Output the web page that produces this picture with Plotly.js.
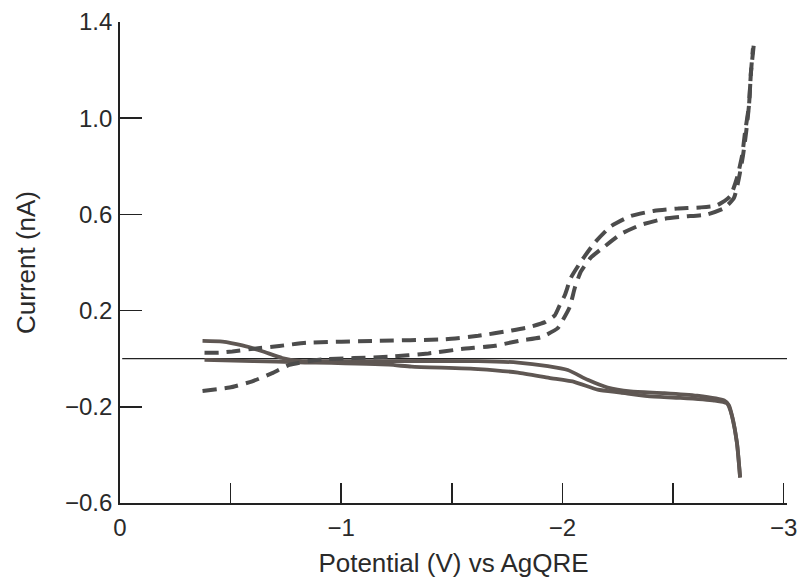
<!DOCTYPE html>
<html>
<head>
<meta charset="utf-8">
<script src="https://cdn.plot.ly/plotly-3.0.1.min.js"></script>
<style>html,body{margin:0;padding:0;background:#fff;}#chart{width:802px;height:587px;}</style>
</head>
<body>
<div id="chart"></div>
<script>
// Dashed scan A (upper plateau)
const dashAx = [-0.382,-0.450,-0.508,-0.616,-0.720,-0.841,-1.156,-1.471,-1.619,-1.768,-1.844,-1.921,-1.966,-1.988,-2.011,-2.038,-2.083,-2.146,-2.218,-2.308,-2.416,-2.519,-2.623,-2.699,-2.758,-2.789,-2.812,-2.825,-2.843,-2.852,-2.866];
const dashAy = [0.025,0.025,0.030,0.043,0.053,0.066,0.074,0.081,0.095,0.117,0.130,0.152,0.181,0.223,0.265,0.336,0.403,0.483,0.550,0.593,0.615,0.624,0.629,0.638,0.675,0.752,0.844,0.940,1.052,1.190,1.315];
// Dashed scan B (starts below zero)
const dashBx = [-0.373,-0.495,-0.598,-0.688,-0.765,-0.900,-1.215,-1.394,-1.543,-1.696,-1.813,-1.903,-1.979,-2.002,-2.033,-2.056,-2.083,-2.128,-2.191,-2.263,-2.353,-2.461,-2.551,-2.654,-2.731,-2.775,-2.798,-2.816,-2.830,-2.843,-2.852,-2.861];
const dashBy = [-0.134,-0.120,-0.094,-0.060,-0.026,-0.004,0.008,0.022,0.040,0.054,0.076,0.089,0.127,0.161,0.215,0.295,0.362,0.420,0.467,0.518,0.556,0.582,0.591,0.600,0.626,0.668,0.752,0.844,0.940,1.052,1.190,1.290];
// Solid scan 1
const solid1x = [-0.373,-0.463,-0.553,-0.643,-0.733,-0.810,-1.170,-1.619,-1.799,-1.934,-2.024,-2.114,-2.204,-2.308,-2.461,-2.609,-2.731,-2.753,-2.767,-2.789,-2.803];
const solid1y = [0.074,0.071,0.055,0.031,0.003,-0.009,-0.010,-0.010,-0.016,-0.031,-0.047,-0.088,-0.120,-0.136,-0.143,-0.154,-0.174,-0.194,-0.240,-0.352,-0.494];
// Solid scan 2
const solid2x = [-0.382,-0.600,-0.810,-1.215,-1.318,-1.619,-1.799,-1.940,-2.056,-2.159,-2.263,-2.384,-2.533,-2.686,-2.744,-2.767,-2.789,-2.803];
const solid2y = [-0.005,-0.010,-0.015,-0.025,-0.033,-0.043,-0.058,-0.080,-0.097,-0.129,-0.141,-0.156,-0.163,-0.174,-0.186,-0.240,-0.352,-0.494];
// Zero reference line
const zeroX = [-0.01, -3.015];
const zeroY = [0, 0];
// Axis ticks
const xTickVals = [0,-0.5,-1,-1.5,-2,-2.5,-3];
const xTickText = ["0","","\u22121","","\u22122","","\u22123"];
const yTickVals = [-0.6,-0.2,0.2,0.6,1.0,1.4];
const yTickText = ["\u22120.6","\u22120.2","0.2","0.6","1.0","1.4"];

const dashStyle = {color:'#4c4c4c', width:4, dash:'14px,8px', shape:'spline', smoothing:0.5};
const solidStyle = {color:'#5f5753', width:3.8, shape:'spline', smoothing:0.5};

const traces = [
  {x:zeroX, y:zeroY, mode:'lines', line:{color:'#222', width:1.3}, hoverinfo:'skip'},
  {x:solid1x, y:solid1y, mode:'lines', line:solidStyle, name:'solid 1'},
  {x:solid2x, y:solid2y, mode:'lines', line:solidStyle, name:'solid 2'},
  {x:dashAx, y:dashAy, mode:'lines', line:dashStyle, name:'dashed A'},
  {x:dashBx, y:dashBy, mode:'lines', line:dashStyle, name:'dashed B'}
];

const layout = {
  width:802, height:587,
  margin:{l:120, r:15, t:22, b:84},
  paper_bgcolor:'#fff', plot_bgcolor:'#fff',
  showlegend:false,
  font:{family:'"Liberation Sans", Arial, Helvetica, sans-serif', color:'#2a2a2a'},
  xaxis:{
    range:[0,-3.015], showgrid:false, zeroline:false,
    showline:true, linecolor:'#222', linewidth:1.8,
    ticks:'inside', ticklen:20, tickwidth:1.5, tickcolor:'#222',
    tickvals:xTickVals, ticktext:xTickText,
    tickfont:{size:24, color:'#2a2a2a'}, ticklabelstandoff:2,
    title:{text:'Potential (V) vs AgQRE', font:{size:26, color:'#2a2a2a'}, standoff:14}
  },
  yaxis:{
    range:[-0.6,1.4], showgrid:false, zeroline:false,
    showline:true, linecolor:'#222', linewidth:1.8,
    ticks:'inside', ticklen:22, tickwidth:1.5, tickcolor:'#222',
    tickvals:yTickVals, ticktext:yTickText,
    tickfont:{size:24, color:'#2a2a2a'}, ticklabelstandoff:1,
    title:{text:'Current (nA)', font:{size:26, color:'#2a2a2a'}, standoff:22}
  }
};

Plotly.newPlot('chart', traces, layout, {displayModeBar:false, staticPlot:true});
</script>
</body>
</html>
